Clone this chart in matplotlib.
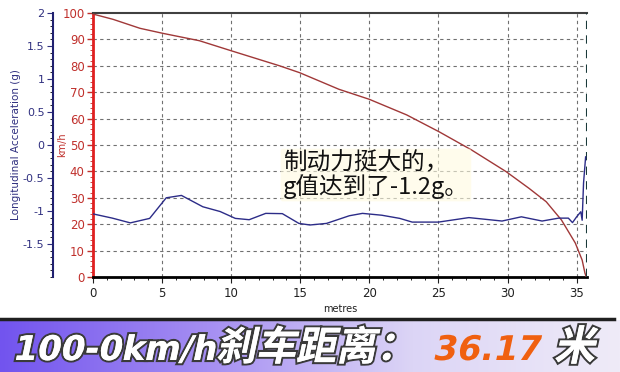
import numpy as np
import matplotlib
matplotlib.use('Agg')
import matplotlib.pyplot as plt
import matplotlib.patheffects as pe
from matplotlib.ticker import MultipleLocator
from matplotlib.colors import LinearSegmentedColormap
from matplotlib.textpath import TextPath
from matplotlib.font_manager import FontProperties
from matplotlib.patches import PathPatch
from matplotlib.transforms import Affine2D

# speed trace (km/h) against distance (metres)
speed_m = [0, 1.45, 3.4, 5.05, 7.7, 10, 13.5, 14.95, 17.8, 20, 22.7, 25.05, 27.4,
           29.9, 31.55, 32.8, 33.9, 34.9, 35.4, 35.6, 35.7]
speed_kmh = [99.6, 97.6, 94.2, 92.3, 89.5, 85.7, 80.0, 77.4, 71.1, 67.3, 61.4, 55.0, 48.1,
             39.9, 33.6, 28.5, 21.6, 12.9, 6.4, 1.5, 0]

# longitudinal acceleration (g) against distance (metres)
acc_m = [0, 1.4, 2.7, 4.1, 5.3, 6.4, 7.95, 9.2, 10.3, 11.3, 12.5, 13.7, 14.9, 15.7, 16.9,
         18.55, 19.5, 20.9, 22.2, 23.1, 25.0, 27.2, 29.6, 31.0, 32.5, 33.7, 34.4, 34.7,
         35.0, 35.3, 35.4, 35.5, 35.65]
acc_g = [-1.044, -1.108, -1.18, -1.112, -0.80, -0.764, -0.936, -1.008, -1.112, -1.132,
         -1.036, -1.04, -1.188, -1.212, -1.188, -1.072, -1.036, -1.064, -1.112, -1.168,
         -1.168, -1.10, -1.152, -1.088, -1.152, -1.108, -1.108, -1.176, -1.088, -1.012,
         -1.14, -0.576, -0.18]

x_max = 35.75
kmh_ticks = list(range(0, 101, 10))
acc_ticks = [-1.5, -1, -0.5, 0, 0.5, 1, 1.5, 2]
acc_labels = ['-1.5', '-1', '-0.5', '0', '0.5', '1', '1.5', '2']

red = '#c0302c'
navy = '#202070'

fig = plt.figure(figsize=(6.2, 3.72), dpi=100)
fig.patch.set_facecolor('white')

ax = fig.add_axes([93 / 620, 1 - 277 / 372, (587 - 93) / 620, 264 / 372])
ax2 = ax.twinx()

ax.plot(speed_m, speed_kmh, color='#a03838', lw=1.0, zorder=3)
ax2.plot(acc_m, acc_g, color='#2c2c88', lw=1.0, zorder=3)

ax.set_xlim(0, x_max)
ax.set_ylim(0, 100)
ax2.set_ylim(-2, 2)

# grid
for v in kmh_ticks[1:-1]:
    ax.axhline(v, color='#707070', lw=0.8, ls=(0, (3, 3)), zorder=1)
for v in range(5, 36, 5):
    ax.axvline(v, color='#707070', lw=0.8, ls=(0, (3, 3)), zorder=1)

# km/h axis
ax.set_yticks(kmh_ticks)
ax.yaxis.set_minor_locator(MultipleLocator(2))
ax.tick_params(axis='y', colors=red, labelsize=8.5, length=4, width=1, pad=2)
ax.tick_params(axis='y', which='minor', colors=red, length=2)
ax.set_ylabel('km/h', color=red, fontsize=7)
ax.yaxis.set_label_coords(-26 / 494, 0.5)
ax.spines['left'].set_color('#e02020')
ax.spines['left'].set_linewidth(2)
ax.spines['bottom'].set_color('black')
ax.spines['bottom'].set_linewidth(2)
ax.spines['top'].set_color('#404040')
ax.spines['top'].set_linewidth(1.5)
ax.spines['right'].set_visible(False)
ax.axvline(x_max, color='#1a3a3a', lw=1.5, ls=(0, (4, 3)), zorder=4)

# distance axis
ax.set_xticks(range(0, 36, 5))
ax.xaxis.set_minor_locator(MultipleLocator(1))
ax.tick_params(axis='x', colors='#202020', labelsize=8.5, length=4, pad=3)
ax.tick_params(axis='x', which='minor', length=2)
ax.set_xlabel('metres', fontsize=7, color='#202020', labelpad=3)

# acceleration axis, placed left of the km/h axis
for s in ['top', 'right', 'bottom']:
    ax2.spines[s].set_visible(False)
ax2.spines['left'].set_position(('outward', 29))
ax2.spines['left'].set_color(navy)
ax2.spines['left'].set_linewidth(1.5)
ax2.yaxis.set_ticks_position('left')
ax2.yaxis.set_label_position('left')
ax2.set_yticks(acc_ticks)
ax2.set_yticklabels(acc_labels)
ax2.yaxis.set_minor_locator(MultipleLocator(0.1))
ax2.tick_params(axis='y', colors='#303080', labelsize=8, length=4, pad=2)
ax2.tick_params(axis='y', which='minor', length=2)
ax2.set_ylabel('Longitudinal Acceleration (g)', color='#303080', fontsize=7.5)
ax2.yaxis.set_label_coords(-72 / 494, 0.5)

# annotation
fig.text(283 / 620, 1 - 175 / 372, '制动力挺大的，\ng值达到了-1.2g。',
         family=['Noto Sans CJK SC', 'DejaVu Sans'], fontsize=17, color='#111111',
         va='center', ha='left', linespacing=1.0,
         bbox=dict(boxstyle='round,pad=0.1', facecolor='#fffbe0', edgecolor='none', alpha=0.6))

# bottom banner
bax = fig.add_axes([0, 0, 1, 52 / 372])
grad = np.linspace(0, 1, 256).reshape(1, -1)
cmap = LinearSegmentedColormap.from_list('band', ['#7254ee', '#a58ef2', '#dcd5f6', '#efebf8'])
bax.imshow(grad, aspect='auto', cmap=cmap, extent=[0, 1, 0, 1])
bax.set_axis_off()
fig.add_artist(plt.Line2D([0, 0.99], [1 - 319 / 372, 1 - 319 / 372], color='#202020', lw=2.5,
                          transform=fig.transFigure))


def banner_text(s, x, size, color, family, stroke=True):
    # slanted heavy text drawn as a path, positioned in pixels
    prop = FontProperties(family=family, weight='bold')
    path = TextPath((0, 0), s, size=size, prop=prop)
    tr = Affine2D().skew_deg(12, 0).translate(x, 372 - 360)
    effects = [pe.withStroke(linewidth=3, foreground='#3a3a3a'), pe.Normal()] if stroke else None
    patch = PathPatch(path, transform=tr, facecolor=color, edgecolor='none', path_effects=effects)
    fig.add_artist(patch)


banner_text('100-0km/h', 12, 34, 'white', 'DejaVu Sans')
banner_text('刹车距离：', 216, 40, 'white', 'Noto Sans CJK SC')
banner_text('36.17', 432, 34, '#f06010', 'DejaVu Sans', stroke=False)
banner_text('米', 554, 41, 'white', 'Noto Sans CJK SC')

fig.savefig('out.png', dpi=100)
